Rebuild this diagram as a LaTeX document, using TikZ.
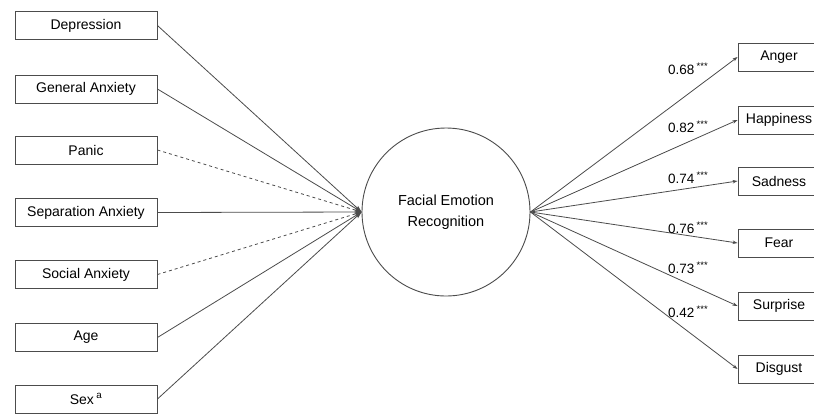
\documentclass[tikz,border=0pt]{standalone}
\usepackage{fontspec}
\setmainfont{Liberation Sans}
\usetikzlibrary{arrows.meta}
\begin{document}
\begin{tikzpicture}[x=1pt,y=-1pt,
  box/.style={draw=black!70, line width=0.9pt, minimum width=142pt, minimum height=28pt, inner sep=0pt, fill=white, font=\fontsize{14}{16}\selectfont},
  rbox/.style={box, minimum width=82pt},
  latent/.style={draw=black!70, line width=0.9pt, circle, minimum size=168pt, inner sep=0pt, align=center, font=\fontsize{14.5}{21}\selectfont},
  pth/.style={draw=black!70, line width=0.8pt, -{Stealth[length=7pt,width=4.5pt]}},
  rpth/.style={draw=black!70, line width=0.8pt, -{Stealth[length=5pt,width=3.5pt]}},
  load/.style={anchor=west, inner sep=0pt, font=\fontsize{13.5}{15}\selectfont}
]
\clip (0,0) rectangle (814,416);
\fill[white] (0,0) rectangle (814,416);

\node[latent] (fer) at (446,212) {Facial Emotion\\Recognition};

\node[box] (dep) at (86,25.5) {Depression};
\node[box] (gen) at (86,89) {General Anxiety};
\node[box] (pan) at (86,150) {Panic};
\node[box] (sep) at (86,212.5) {Separation Anxiety};
\node[box] (soc) at (86,274.5) {Social Anxiety};
\node[box] (age) at (86,337.5) {Age};
\node[box] (sex) at (86,399) {Sex\,\textsuperscript{a}};

\node[rbox] (ang) at (779,57) {Anger};
\node[rbox] (hap) at (779,120) {Happiness};
\node[rbox] (sad) at (779,181) {Sadness};
\node[rbox] (fea) at (779,243) {Fear};
\node[rbox] (sur) at (779,306) {Surprise};
\node[rbox] (dis) at (779,369) {Disgust};

\draw[pth] (dep.east) -- (fer.west);
\draw[pth] (gen.east) -- (fer.west);
\draw[pth, dashed] (pan.east) -- (fer.west);
\draw[pth] (sep.east) -- (fer.west);
\draw[pth, dashed] (soc.east) -- (fer.west);
\draw[pth] (age.east) -- (fer.west);
\draw[pth] (sex.east) -- (fer.west);

\draw[rpth] (fer.east) -- (ang.west);
\draw[rpth] (fer.east) -- (hap.west);
\draw[rpth] (fer.east) -- (sad.west);
\draw[rpth] (fer.east) -- (fea.west);
\draw[rpth] (fer.east) -- (sur.west);
\draw[rpth] (fer.east) -- (dis.west);

\node[load] (l1) at (668,69) {0.68\,\textsuperscript{***}};
\node[load] (l2) at (668,127) {0.82\,\textsuperscript{***}};
\node[load] (l3) at (668,178) {0.74\,\textsuperscript{***}};
\node[load] (l4) at (668,228) {0.76\,\textsuperscript{***}};
\node[load] (l5) at (668,268) {0.73\,\textsuperscript{***}};
\node[load] (l6) at (668,312) {0.42\,\textsuperscript{***}};
\end{tikzpicture}
\end{document}
